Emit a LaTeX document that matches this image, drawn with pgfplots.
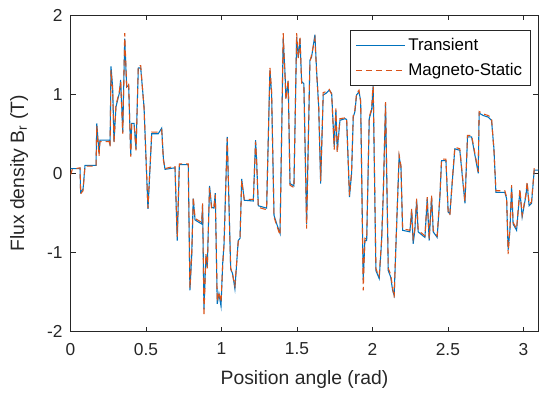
\documentclass[border=0pt]{standalone}
\usepackage{pgfplots}
\usepackage{pgfplotstable}
\pgfplotsset{compat=1.18}
\usepackage{fontspec}
\setmainfont{Liberation Sans}
\definecolor{mblue}{rgb}{0,0.447,0.741}
\definecolor{morange}{rgb}{0.85,0.325,0.098}
\definecolor{axgray}{rgb}{0.15,0.15,0.15}

\pgfplotstableread{
x y
0 0.06
0.063 0.06
0.067 -0.24
0.083 -0.20
0.096 0.10
0.169 0.10
0.174 0.63
0.189 0.25
0.195 0.42
0.257 0.42
0.262 0.35
0.268 1.35
0.279 1.09
0.288 0.40
0.301 0.84
0.323 1.01
0.332 1.18
0.346 0.52
0.359 1.70
0.372 1.09
0.385 1.11
0.399 0.23
0.405 0.63
0.421 0.63
0.434 0.31
0.449 1.33
0.465 1.33
0.487 0.84
0.513 -0.45
0.538 0.50
0.581 0.50
0.604 0.57
0.615 0.19
0.626 0.05
0.692 0.07
0.707 -0.85
0.721 0.11
0.780 0.11
0.791 -1.48
0.803 -1.04
0.813 -0.32
0.825 -0.59
0.869 -0.64
0.875 -0.40
0.884 -1.72
0.897 -1.04
0.906 -1.18
0.921 -0.16
0.935 -0.43
0.950 -0.44
0.959 -0.25
0.972 -1.65
0.983 -1.52
0.997 -1.68
1.008 -1.14
1.017 -0.89
1.038 0.46
1.061 -1.21
1.074 -1.27
1.089 -1.46
1.111 -0.85
1.123 -0.82
1.134 -0.07
1.151 -0.34
1.211 -0.35
1.226 0.42
1.233 0.16
1.244 -0.41
1.299 -0.44
1.321 1.30
1.332 1.01
1.348 -0.53
1.366 -0.64
1.388 -0.76
1.409 1.70
1.421 1.26
1.427 0.95
1.442 1.16
1.454 -0.13
1.480 -0.16
1.498 1.72
1.509 1.47
1.520 1.70
1.531 1.16
1.546 1.13
1.564 -0.64
1.586 1.43
1.597 1.47
1.619 1.75
1.630 1.30
1.644 0.84
1.657 -0.13
1.674 0.99
1.692 1.01
1.714 1.05
1.730 1.01
1.747 0.33
1.758 0.80
1.767 0.29
1.785 0.67
1.818 0.69
1.829 0.68
1.848 -0.30
1.862 0.00
1.873 0.71
1.884 0.78
1.895 0.99
1.911 1.03
1.922 0.92
1.939 -1.35
1.950 -0.85
1.962 -0.85
1.979 0.69
1.995 0.80
2.005 1.11
2.023 -1.23
2.032 -1.27
2.045 -1.33
2.061 -0.85
2.072 -0.26
2.087 0.88
2.105 -1.23
2.121 -1.31
2.134 -1.48
2.144 -1.54
2.160 -0.68
2.177 0.21
2.189 0.08
2.200 -0.72
2.248 -0.74
2.260 -0.47
2.270 -0.89
2.281 -0.72
2.293 -0.34
2.303 -0.74
2.348 -0.81
2.363 -0.32
2.376 -0.85
2.392 -0.30
2.403 -0.74
2.429 -0.81
2.447 -0.30
2.458 0.16
2.487 0.16
2.502 -0.49
2.513 -0.51
2.535 0.04
2.546 0.31
2.579 0.29
2.613 -0.38
2.630 0.46
2.657 0.46
2.701 0.00
2.707 0.76
2.734 0.73
2.767 0.71
2.789 0.67
2.805 0.31
2.818 -0.24
2.877 -0.24
2.889 -0.32
2.899 -0.97
2.911 -0.72
2.922 -0.17
2.932 -0.64
2.955 -0.72
2.977 -0.22
2.992 -0.55
3.017 -0.28
3.025 -0.13
3.038 -0.41
3.054 -0.38
3.072 0.04
3.099 0.04
}\transient

\pgfplotstableread{
x y
0 -0.02
0.012 0.05
0.063 0.07
0.067 -0.26
0.083 -0.22
0.096 0.09
0.169 0.09
0.174 0.60
0.189 0.22
0.195 0.40
0.257 0.40
0.262 0.33
0.268 1.30
0.279 1.05
0.288 0.38
0.301 0.86
0.323 1.03
0.332 1.15
0.346 0.50
0.359 1.77
0.372 1.10
0.385 1.14
0.399 0.21
0.405 0.62
0.421 0.62
0.434 0.29
0.449 1.36
0.465 1.36
0.487 0.82
0.513 -0.44
0.538 0.52
0.581 0.52
0.604 0.55
0.615 0.17
0.626 0.06
0.692 0.09
0.707 -0.80
0.721 0.12
0.780 0.12
0.791 -1.45
0.803 -1.00
0.813 -0.30
0.825 -0.57
0.869 -0.62
0.875 -0.38
0.884 -1.80
0.897 -1.02
0.906 -1.20
0.921 -0.18
0.935 -0.45
0.950 -0.42
0.959 -0.27
0.972 -1.62
0.983 -1.50
0.997 -1.63
1.008 -1.16
1.017 -0.90
1.038 0.44
1.061 -1.19
1.074 -1.29
1.089 -1.42
1.111 -0.87
1.123 -0.80
1.134 -0.09
1.151 -0.33
1.211 -0.33
1.226 0.40
1.233 0.14
1.244 -0.43
1.299 -0.46
1.321 1.34
1.332 1.04
1.348 -0.55
1.366 -0.66
1.388 -0.78
1.409 1.77
1.421 1.22
1.427 0.93
1.442 1.18
1.454 -0.15
1.480 -0.18
1.498 1.77
1.509 1.45
1.520 1.73
1.531 1.14
1.546 1.10
1.564 -0.70
1.586 1.40
1.597 1.50
1.619 1.70
1.630 1.28
1.644 0.86
1.657 -0.10
1.674 1.02
1.692 1.03
1.714 1.06
1.730 1.00
1.747 0.30
1.758 0.82
1.767 0.26
1.785 0.69
1.818 0.70
1.829 0.70
1.848 -0.28
1.862 0.02
1.873 0.73
1.884 0.80
1.895 1.01
1.911 1.05
1.922 0.90
1.939 -1.48
1.950 -0.82
1.962 -0.83
1.979 0.71
1.995 0.82
2.005 1.16
2.023 -1.20
2.032 -1.25
2.045 -1.30
2.061 -0.83
2.072 -0.24
2.087 0.90
2.105 -1.20
2.121 -1.28
2.134 -1.45
2.144 -1.57
2.160 -0.66
2.177 0.23
2.189 0.10
2.200 -0.70
2.248 -0.72
2.260 -0.45
2.270 -0.82
2.281 -0.70
2.293 -0.32
2.303 -0.72
2.348 -0.79
2.363 -0.30
2.376 -0.83
2.392 -0.28
2.403 -0.72
2.429 -0.79
2.447 -0.28
2.458 0.18
2.487 0.18
2.502 -0.51
2.513 -0.53
2.535 0.06
2.546 0.33
2.579 0.31
2.613 -0.36
2.630 0.48
2.657 0.48
2.701 0.02
2.707 0.78
2.734 0.75
2.767 0.73
2.789 0.70
2.805 0.29
2.818 -0.22
2.877 -0.22
2.889 -0.30
2.899 -1.02
2.911 -0.70
2.922 -0.15
2.932 -0.62
2.955 -0.70
2.977 -0.20
2.992 -0.53
3.017 -0.26
3.025 -0.11
3.038 -0.39
3.054 -0.36
3.072 0.06
3.099 0.06
}\magstatic

\begin{document}
\begin{tikzpicture}
\begin{axis}[
  width=351pt, height=237.5pt, scale only axis,
  xmin=0, xmax=3.1, ymin=-2, ymax=2,
  xtick={0,0.5,1,1.5,2,2.5,3},
  ytick={-2,-1,0,1,2},
  /pgf/number format/assume math mode=true,
  axis line style={axgray, line width=0.5pt},
  tick style={axgray, line width=0.5pt},
  major tick length=3.8pt,
  tick align=inside,
  ticklabel style={font=\fontsize{13}{15}\selectfont, text=axgray},
  xticklabel style={yshift=-5pt},
  yticklabel style={xshift=-2.5pt},
  xlabel={Position angle (rad)},
  ylabel={Flux density B\textsubscript{r} (T)},
  label style={font=\fontsize{14.5}{17}\selectfont, text=axgray},
  xlabel style={at={(axis description cs:0.5,0)}, anchor=center, yshift=-36pt},
  every axis y label/.append style={at={(axis description cs:-0.11,0.5)}, anchor=center},
  legend style={at={(0.983,0.953)}, anchor=north east, draw=axgray, line width=0.5pt,
    font=\fontsize{12.7}{15}\selectfont, inner xsep=4pt, inner ysep=4pt,
    row sep=4pt},
  legend cell align=left,
  legend image code/.code={\draw[#1] (0pt,0pt) -- (37pt,0pt);},
]
\addplot[draw=mblue, line width=0.8pt] table[x=x,y=y] {\transient};
\addlegendentry{Transient}
\addplot[draw=morange, line width=0.8pt, dash pattern=on 4.5pt off 3pt] table[x=x,y=y] {\magstatic};
\addlegendentry{Magneto-Static}
\end{axis}
\pgfresetboundingbox
\path (current axis.south west) ++(-52.9pt,-47.5pt) coordinate (bbA);
\path (current axis.north east) ++(0.4pt,11.25pt) coordinate (bbB);
\useasboundingbox (bbA) rectangle (bbB);
\end{tikzpicture}
\end{document}
